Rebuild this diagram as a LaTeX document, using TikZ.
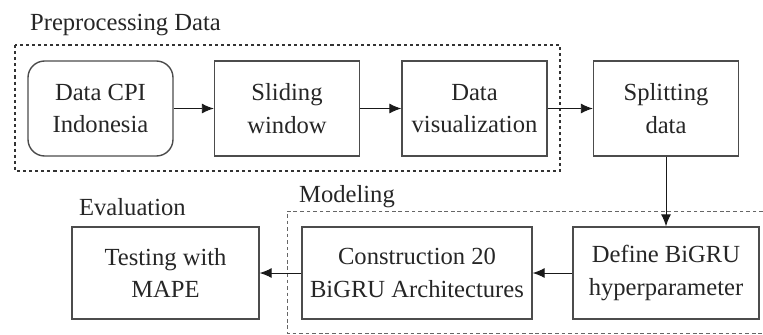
\documentclass[tikz,border=0pt]{standalone}
\usepackage{fontspec}
\setmainfont{Liberation Serif}
\usetikzlibrary{positioning,arrows.meta}

\begin{document}
\begin{tikzpicture}[
        x=0.03cm, y=-0.03cm,
        every node/.style={font=\fontsize{21}{28}\selectfont, text=black!85},
        procbox/.style={rectangle, draw=black!70, line width=1.2pt, align=center,
            minimum width=4.35cm, minimum height=2.85cm, inner sep=2pt},
        databox/.style={procbox, rounded corners=0.5cm},
        arrow/.style={-{Latex[length=0.36cm, width=0.3cm]}, line width=0.8pt, black!90}
    ]
        \useasboundingbox (0,0) rectangle (763,334);

        % first row
        \node[databox] (cpi) at (100.5,108.5) {Data CPI\\Indonesia};
        \node[procbox] (slide) at (287,108.5) {Sliding\\window};
        \node[procbox] (vis) at (474.5,108.5) {Data\\visualization};
        \node[procbox] (split) at (666,108.5) {Splitting\\data};

        % second row
        \node[procbox, minimum width=5.58cm, minimum height=2.76cm] (define) at (666,273) {Define BiGRU\\hyperparameter};
        \node[procbox, minimum width=6.9cm, minimum height=2.76cm] (constr) at (417,273) {Construction 20\\BiGRU Architectures};
        \node[procbox, minimum width=5.61cm, minimum height=2.76cm] (test) at (165.5,273) {Testing with\\MAPE};

        % frames
        \draw[black!80, line width=1.3pt, dash pattern=on 2.6pt off 2.6pt] (15,45) rectangle (560,171);
        \draw[black!60, line width=0.7pt, dash pattern=on 3.2pt off 2.4pt] (763,211) -- (287,211) -- (287,333) -- (763,333);

        \node[anchor=base west] (prelabel) at (26,30) {Preprocessing Data};
        \node[anchor=base west] (modlabel) at (295,202) {Modeling};
        \node[anchor=base west] (evallabel) at (75,215) {Evaluation};

        \draw[arrow] (cpi) -- (slide);
        \draw[arrow] (slide) -- (vis);
        \draw[arrow] (vis) -- (split);
        \draw[arrow] (split) -- (define);
        \draw[arrow] (define) -- (constr);
        \draw[arrow] (constr) -- (test);
    \end{tikzpicture}
\end{document}
